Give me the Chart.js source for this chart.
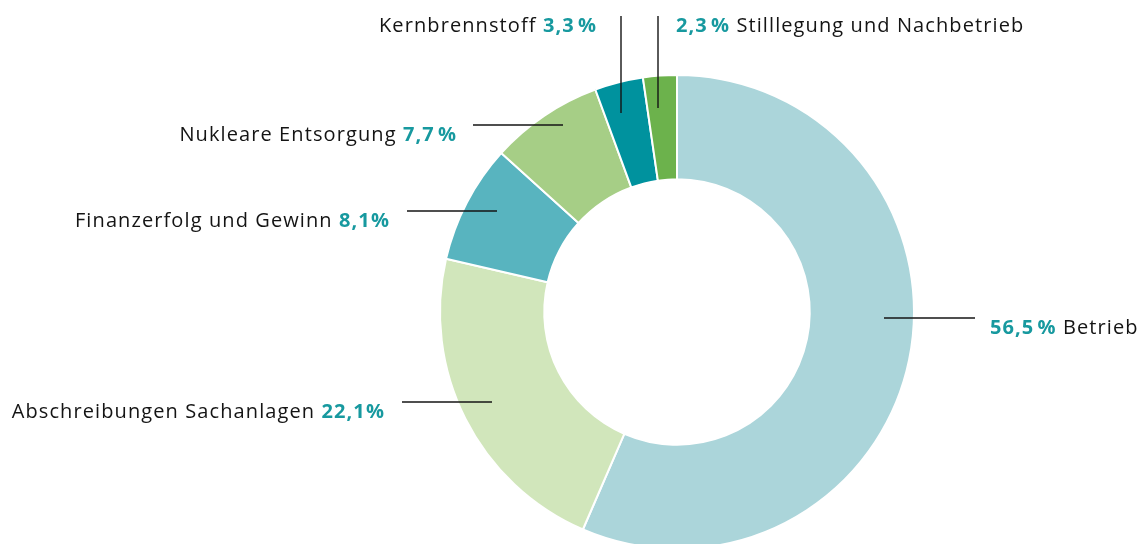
<!DOCTYPE html>
<html>
<head>
<meta charset="utf-8">
<script src="https://cdn.jsdelivr.net/npm/chart.js@4/dist/chart.umd.min.js"></script>
<style>
  html, body { margin: 0; padding: 0; background: #fff; overflow: hidden; }
  #wrap { width: 1141px; height: 560px; }
</style>
</head>
<body>
<div id="wrap"><canvas id="costChart" width="1141" height="560"></canvas></div>
<script>
var categories = ["Betrieb", "Abschreibungen Sachanlagen", "Finanzerfolg und Gewinn", "Nukleare Entsorgung", "Kernbrennstoff", "Stilllegung und Nachbetrieb"];
var shares = [56.5, 22.1, 8.1, 7.7, 3.3, 2.3];
var shareLabels = ["56,5\u200a%", "22,1%", "8,1%", "7,7\u200a%", "3,3\u200a%", "2,3\u200a%"];
var sliceColors = ["#abd5da", "#d1e6bb", "#58b4bf", "#a6ce86", "#00929e", "#6cb24c"];

// leader lines + label placement, offsets from the doughnut centre
var callouts = [
  { x1: 207, y1: 6, x2: 298, y2: 6, tx: 313, ty: 16, side: "right" },
  { x1: -185, y1: 90, x2: -275, y2: 90, tx: -292, ty: 100, side: "left" },
  { x1: -180, y1: -101, x2: -270, y2: -101, tx: -287, ty: -91, side: "left" },
  { x1: -114, y1: -187, x2: -204, y2: -187, tx: -220, ty: -177, side: "left" },
  { x1: -56, y1: -199, x2: -56, y2: -296, tx: -80, ty: -286, side: "left" },
  { x1: -19, y1: -204, x2: -19, y2: -296, tx: -1, ty: -286, side: "right" }
];

var FONT = "'Open Sans', Lato, sans-serif";

function setFont(ctx, bold) {
  ctx.font = (bold ? "700" : "400") + " 20px " + FONT;
  ctx.letterSpacing = "1.1px";
}

var calloutPlugin = {
  id: "callouts",
  afterDraw: function (chart) {
    var ctx = chart.ctx;
    var arc = chart.getDatasetMeta(0).data[0];
    var cx = arc.x, cy = arc.y;
    ctx.save();
    ctx.strokeStyle = "#141414";
    ctx.lineWidth = 1.4;
    ctx.textBaseline = "middle";
    ctx.textAlign = "left";
    callouts.forEach(function (c, i) {
      ctx.beginPath();
      ctx.moveTo(cx + c.x1, cy + c.y1);
      ctx.lineTo(cx + c.x2, cy + c.y2);
      ctx.stroke();

      var name = categories[i];
      var pct = shareLabels[i];
      setFont(ctx, false);
      var nameW = ctx.measureText(name).width;
      var spaceW = ctx.measureText(" ").width;
      setFont(ctx, true);
      var pctW = ctx.measureText(pct).width;
      var x = cx + c.tx, y = cy + c.ty;
      if (c.side === "left") {
        var start = x - (nameW + spaceW + pctW);
        setFont(ctx, false);
        ctx.fillStyle = "#141414";
        ctx.fillText(name, start, y);
        setFont(ctx, true);
        ctx.fillStyle = "#17999f";
        ctx.fillText(pct, start + nameW + spaceW, y);
      } else {
        setFont(ctx, true);
        ctx.fillStyle = "#17999f";
        ctx.fillText(pct, x, y);
        setFont(ctx, false);
        ctx.fillStyle = "#141414";
        ctx.fillText(name, x + pctW + spaceW, y);
      }
    });
    ctx.restore();
  }
};

new Chart(document.getElementById("costChart"), {
  type: "doughnut",
  data: {
    labels: categories,
    datasets: [{
      data: shares,
      backgroundColor: sliceColors,
      borderColor: "#ffffff",
      borderWidth: 2,
      hoverOffset: 0
    }]
  },
  options: {
    responsive: false,
    animation: false,
    cutout: "56%",
    layout: { padding: { top: 74, left: 439, right: 226, bottom: 10 } },
    plugins: {
      legend: { display: false },
      tooltip: { enabled: false }
    }
  },
  plugins: [calloutPlugin]
});
</script>
</body>
</html>
